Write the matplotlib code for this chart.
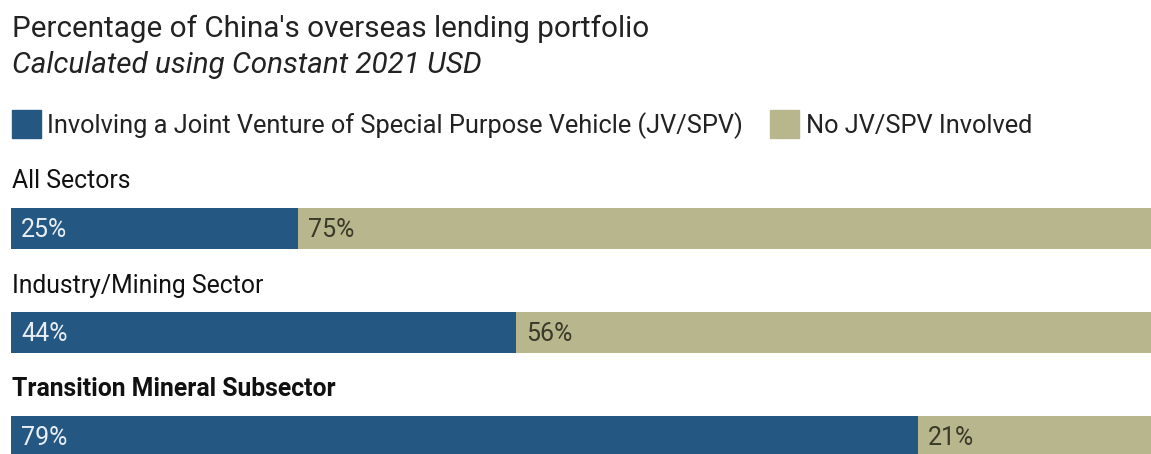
import matplotlib.pyplot as plt

plt.rcParams['font.family'] = ['Roboto', 'DejaVu Sans']

# shares of the lending portfolio, in percent
sectors = ['All Sectors', 'Industry/Mining Sector', 'Transition Mineral Subsector']
jv_spv = [25, 44, 79]
no_jv_spv = [75, 56, 21]
series_names = ['Involving a Joint Venture of Special Purpose Vehicle (JV/SPV)',
                'No JV/SPV Involved']

blue = '#245782'
tan = '#b8b68c'

W, H = 1151, 454
fig = plt.figure(figsize=(W / 100, H / 100), dpi=100)
fig.patch.set_facecolor('white')

# headings
fig.text(12 / W, 1 - 37 / H, "Percentage of China's overseas lending portfolio",
         fontsize=21.3, color='#222222', va='baseline')
fig.text(12 / W, 1 - 73 / H, 'Calculated using Constant 2021 USD',
         fontsize=21.3, color='#222222', style='italic', va='baseline')

# legend drawn by hand: square + label
leg = fig.add_axes([0, 0, 1, 1])
leg.set_xlim(0, W)
leg.set_ylim(H, 0)
leg.axis('off')
leg.add_patch(plt.Rectangle((12, 110), 29, 28, color=blue))
leg.text(47, 133, series_names[0], fontsize=18.3, color='#222222', va='baseline')
leg.add_patch(plt.Rectangle((770, 110), 29, 28, color=tan))
leg.text(806, 133, series_names[1], fontsize=18.3, color='#222222', va='baseline')

# bars
ax = fig.add_axes([11 / W, 0, 1148 / W, 1])
ax.set_xlim(0, 100)
ax.set_ylim(H, 0)
ax.axis('off')

bar_y = [228.5, 332.5, 436.5]
bar_h = 41
ax.barh(bar_y, jv_spv, height=bar_h, color=blue)
ax.barh(bar_y, no_jv_spv, left=jv_spv, height=bar_h, color=tan)

for i, (name, a, b) in enumerate(zip(sectors, jv_spv, no_jv_spv)):
    y = bar_y[i]
    ax.text(0.1, y - bar_h / 2 - 19.5, name, fontsize=17.8, color='#111111',
            va='baseline', fontweight='bold' if i == 2 else 'normal')
    ax.text(0.9, y + 8.5, f'{a}%', fontsize=18, color='#e8eef4', va='baseline')
    ax.text(a + 0.9, y + 8.5, f'{b}%', fontsize=18, color='#3a3a2a', va='baseline')

fig.savefig('out.png', dpi=100, facecolor='white')
